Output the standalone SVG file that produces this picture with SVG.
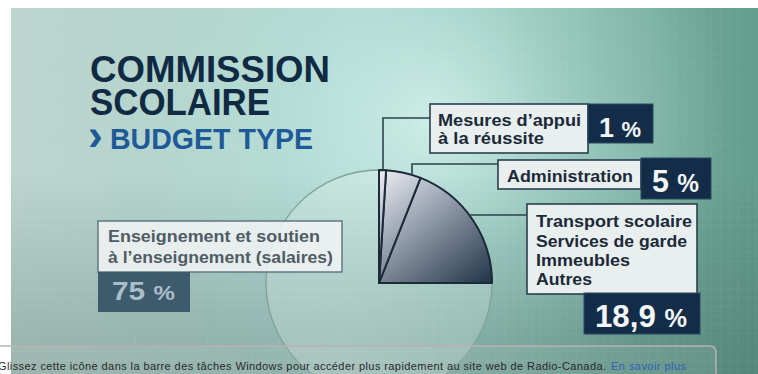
<svg xmlns="http://www.w3.org/2000/svg" width="758" height="374" viewBox="0 0 758 374">
  <defs>
    <linearGradient id="bgH" x1="0" y1="0" x2="1" y2="0">
      <stop offset="0" stop-color="#bcd5ce"/>
      <stop offset="0.45" stop-color="#a9d3cb"/>
      <stop offset="0.75" stop-color="#80b6a8"/>
      <stop offset="1" stop-color="#639d8c"/>
    </linearGradient>
    <radialGradient id="glow" cx="430" cy="120" r="300" gradientUnits="userSpaceOnUse">
      <stop offset="0" stop-color="#d6f3ee" stop-opacity="0.85"/>
      <stop offset="0.5" stop-color="#c4ebe4" stop-opacity="0.35"/>
      <stop offset="1" stop-color="#c4ebe4" stop-opacity="0"/>
    </radialGradient>
    <linearGradient id="shade" x1="0" y1="0" x2="0" y2="1">
      <stop offset="0.45" stop-color="#2e4a48" stop-opacity="0"/>
      <stop offset="1" stop-color="#2e4a48" stop-opacity="0.28"/>
    </linearGradient>
    <linearGradient id="pieG" x1="385" y1="172" x2="478" y2="290" gradientUnits="userSpaceOnUse">
      <stop offset="0" stop-color="#e8e8ee"/>
      <stop offset="0.3" stop-color="#aab2bf"/>
      <stop offset="1" stop-color="#24374b"/>
    </linearGradient>
    <pattern id="grid" width="9" height="9" patternUnits="userSpaceOnUse">
      <path d="M0,0 V9 M0,0 H9" stroke="#ffffff" stroke-width="1" fill="none"/>
    </pattern>
    <style>
      .lbl { font-family: "Liberation Sans", Arial, sans-serif; font-weight: bold; font-size: 17px; fill: #1b2a39; }
      .lblf { font-family: "Liberation Sans", Arial, sans-serif; font-weight: bold; font-size: 17px; fill: #4f5c66; }
      .num { font-family: "Liberation Sans", Arial, sans-serif; font-weight: bold; fill: #f4f6f8; }
      .box { fill: #e9eeee; stroke: #2b3f4e; stroke-width: 1.6; }
      .dbox { fill: #132d48; stroke: #2c4860; stroke-width: 1; }
      .conn { fill: none; stroke: #2b4150; stroke-width: 1.6; }
      .slice { fill: url(#pieG); stroke: #1b2b3a; stroke-width: 2; stroke-linejoin: round; }
      .title { font-family: "Liberation Sans", Arial, sans-serif; font-weight: bold; fill: #102a44; }
      .sub { font-family: "Liberation Sans", Arial, sans-serif; font-weight: bold; fill: #1f5a98; }
      .note { font-family: "Liberation Sans", Arial, sans-serif; font-size: 11px; fill: #2a2a2a; }
    </style>
  </defs>

  <!-- page background -->
  <rect x="0" y="0" width="758" height="374" fill="#ffffff"/>
  <g id="background">
    <rect x="11" y="8" width="747" height="366" fill="url(#bgH)"/>
    <rect x="11" y="8" width="747" height="366" fill="url(#glow)"/>
    <rect x="11" y="8" width="747" height="366" fill="url(#shade)"/>
    <rect x="11" y="8" width="747" height="366" fill="url(#grid)" opacity="0.07"/>
  </g>

  <!-- title -->
  <g id="title">
    <text class="title" x="90" y="82" font-size="36" textLength="240" lengthAdjust="spacingAndGlyphs">COMMISSION</text>
    <text class="title" x="90" y="115" font-size="36" textLength="180" lengthAdjust="spacingAndGlyphs">SCOLAIRE</text>
    <text class="sub" x="88" y="149" font-size="30"><tspan font-size="44" dy="1">›</tspan><tspan x="110" dy="-1" textLength="203" lengthAdjust="spacingAndGlyphs">BUDGET TYPE</tspan></text>
  </g>

  <!-- pie chart -->
  <g id="pie">
    <circle cx="379" cy="283" r="113" fill="#ffffff" fill-opacity="0.2" stroke="#7ea29a" stroke-width="1.3"/>
    <path class="slice" d="M379,283 L492,283 A113,113 0 0 0 420.6,177.9 Z"/>
    <path class="slice" d="M379,283 L420.6,177.9 A113,113 0 0 0 386.1,170.2 Z"/>
    <path class="slice" d="M379,283 L386.1,170.2 A113,113 0 0 0 379,170 Z"/>
  </g>

  <!-- connectors -->
  <g id="connectors">
    <path class="conn" d="M383,170 V118 H430"/>
    <path class="conn" d="M412,175 V164 H498"/>
    <path class="conn" d="M469,215 H527"/>
  </g>

  <!-- 1% -->
  <g id="node-mesures">
    <rect class="box" x="430" y="104" width="158" height="49"/>
    <text class="lbl" x="438" y="126" textLength="143" lengthAdjust="spacingAndGlyphs">Mesures d’appui</text>
    <text class="lbl" x="438" y="144" textLength="106" lengthAdjust="spacingAndGlyphs">à la réussite</text>
    <rect class="dbox" x="588" y="104" width="65" height="39"/>
    <text class="num" x="599" y="137" font-size="27" textLength="42" lengthAdjust="spacingAndGlyphs">1 <tspan font-size="22">%</tspan></text>
  </g>

  <!-- 5% -->
  <g id="node-administration">
    <rect class="box" x="498" y="160" width="143" height="29"/>
    <text class="lbl" x="507" y="182" textLength="126" lengthAdjust="spacingAndGlyphs">Administration</text>
    <rect class="dbox" x="641" y="158" width="70" height="41"/>
    <text class="num" x="652" y="192" font-size="31" textLength="47" lengthAdjust="spacingAndGlyphs">5 <tspan font-size="25">%</tspan></text>
  </g>

  <!-- 18,9% -->
  <g id="node-transport">
    <rect class="box" x="527" y="204" width="170" height="90"/>
    <text class="lbl" x="536" y="227" textLength="156" lengthAdjust="spacingAndGlyphs">Transport scolaire</text>
    <text class="lbl" x="536" y="246.5" textLength="151" lengthAdjust="spacingAndGlyphs">Services de garde</text>
    <text class="lbl" x="536" y="266" textLength="94" lengthAdjust="spacingAndGlyphs">Immeubles</text>
    <text class="lbl" x="536" y="285" textLength="56" lengthAdjust="spacingAndGlyphs">Autres</text>
    <rect class="dbox" x="584" y="293" width="116" height="41"/>
    <text class="num" x="595" y="327" font-size="32" textLength="92" lengthAdjust="spacingAndGlyphs">18,9 <tspan font-size="26">%</tspan></text>
  </g>

  <!-- 75% -->
  <g id="node-enseignement">
    <rect x="98" y="221" width="244" height="51" fill="#f2f5f5" fill-opacity="0.85" stroke="#637782" stroke-width="1.5"/>
    <text class="lblf" x="108" y="242" textLength="212" lengthAdjust="spacingAndGlyphs">Enseignement et soutien</text>
    <text class="lblf" x="108" y="263" textLength="225" lengthAdjust="spacingAndGlyphs">à l’enseignement (salaires)</text>
    <rect x="98" y="272" width="92" height="40" fill="#3e5b6d"/>
    <text x="112" y="300" font-family="Liberation Sans, Arial, sans-serif" font-weight="bold" font-size="26" fill="#a9bec8" textLength="63" lengthAdjust="spacingAndGlyphs">75 <tspan font-size="21">%</tspan></text>
  </g>

  <!-- notification bar -->
  <g id="notification">
    <rect x="0" y="346" width="716" height="28" fill="#ffffff" fill-opacity="0.08"/>
    <path d="M0,346 H709 Q716,346 716,353 V374" fill="none" stroke="#b9b1b1" stroke-width="1.5"/>
    <text class="note" x="-2" y="370" textLength="608">Glissez cette icône dans la barre des tâches Windows pour accéder plus rapidement au site web de Radio-Canada.</text>
    <text class="note" x="611" y="370" style="fill:#2c5fb5" textLength="75">En savoir plus</text>
  </g>
</svg>
